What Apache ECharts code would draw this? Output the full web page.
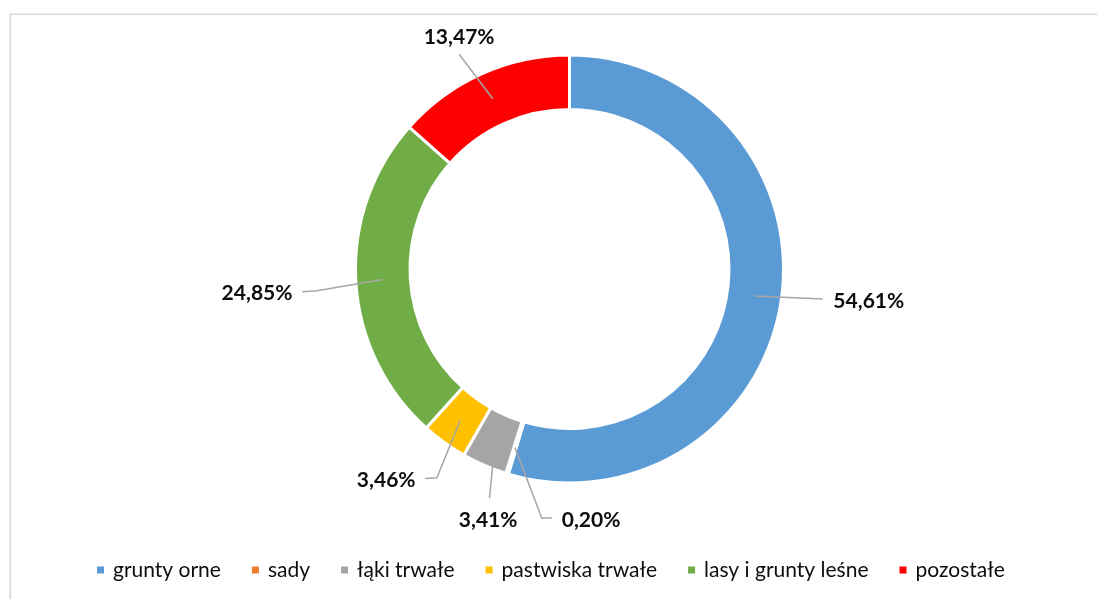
<!DOCTYPE html>
<html>
<head>
<meta charset="utf-8">
<script src="https://cdn.jsdelivr.net/npm/echarts@6/dist/echarts.min.js"></script>
<style>
html,body{margin:0;padding:0;background:#fff;}
#main{width:1097px;height:599px;}
</style>
</head>
<body>
<div id="main"></div>
<script>
// ---- data ----
var categories = ['grunty orne', 'sady', 'łąki trwałe', 'pastwiska trwałe', 'lasy i grunty leśne', 'pozostałe'];
var values = [54.61, 0.20, 3.41, 3.46, 24.85, 13.47];
var colors = ['#5B9BD5', '#ED7D31', '#A5A5A5', '#FFC000', '#70AD47', '#FF0000'];

// ---- layout / style (not data) ----
var CX = 569.5, CY = 269, R_IN = 159.5, R_OUT = 214, BORDER = 3;
var R_MID = (R_IN + R_OUT) / 2;
// label centre offset from the mid-ring point of each slice
var labelOffsets = [[114.5, 5], [76, 72.6], [-7, 80], [-74, 60], [-126, 13.5], [-33.7, -61.5]];
// leader line: optional elbow and end, relative to label centre
var lineElbows = [null, [-49.3, -2.2], null, [50.7, -2.7], [58.3, -2], null];
var lineEnds = [[-46, -2], [-39.3, -2.2], [1.3, -22.2], [39, -2], [45, -1.3], [0, 17]];

var total = values.reduce(function (a, b) { return a + b; }, 0);
var midAngles = [];
(function () {
  var acc = 0;
  for (var i = 0; i < values.length; i++) {
    midAngles.push((acc + values[i] / 2) / total * 2 * Math.PI);
    acc += values[i];
  }
})();

function fmt(v) { return v.toFixed(2).replace('.', ',') + '%'; }

var pieData = categories.map(function (c, i) { return { name: c, value: values[i] }; });

var chart = echarts.init(document.getElementById('main'));
chart.setOption({
  animation: false,
  backgroundColor: '#ffffff',
  color: colors,
  graphic: [{
    type: 'rect',
    shape: { x: 10.2, y: 14.2, width: 1200, height: 700 },
    style: { fill: 'none', stroke: '#d9d9d9', lineWidth: 1.6 },
    silent: true,
    z: -10
  }],
  legend: {
    left: 95,
    top: 558,
    padding: 0,
    itemWidth: 9,
    itemHeight: 9,
    itemGap: 29,
    icon: 'rect',
    textStyle: { fontFamily: 'Lato', fontSize: 21, color: '#0d0d0d', padding: [0, 0, 0, 3], lineHeight: 24 },
    data: categories
  },
  series: [{
    type: 'pie',
    name: 'ring',
    center: [CX, CY],
    radius: [R_IN, R_OUT],
    startAngle: 90,
    clockwise: true,
    avoidLabelOverlap: false,
    itemStyle: { borderColor: '#ffffff', borderWidth: BORDER },
    label: { show: false },
    labelLine: { show: false },
    emphasis: { disabled: true },
    z: 2,
    data: pieData
  }, {
    type: 'pie',
    name: 'labels',
    center: [CX, CY],
    radius: [R_IN, R_OUT],
    startAngle: 90,
    clockwise: true,
    avoidLabelOverlap: false,
    silent: true,
    z: 5,
    itemStyle: { color: 'rgba(0,0,0,0)', borderWidth: 0 },
    label: {
      show: true,
      position: 'outside',
      fontFamily: 'Lato',
      fontWeight: 'bold',
      fontSize: 21,
      color: '#0d0d0d',
      formatter: function (p) { return fmt(p.value); }
    },
    labelLine: { show: true, smooth: false, length: 10, length2: 10, lineStyle: { color: '#a6a6a6', width: 1.5 } },
    labelLayout: function (p) {
      var i = p.dataIndex;
      var a = midAngles[i];
      var mx = CX + R_MID * Math.sin(a), my = CY - R_MID * Math.cos(a);
      var lx = mx + labelOffsets[i][0], ly = my + labelOffsets[i][1];
      var pts = [[mx, my]];
      if (lineElbows[i]) pts.push([lx + lineElbows[i][0], ly + lineElbows[i][1]]);
      pts.push([lx + lineEnds[i][0], ly + lineEnds[i][1]]);
      if (pts.length === 2) pts.push(pts[1].slice());
      return { x: lx, y: ly, align: 'center', verticalAlign: 'middle', labelLinePoints: pts };
    },
    emphasis: { disabled: true },
    data: pieData
  }]
});
</script>
</body>
</html>
